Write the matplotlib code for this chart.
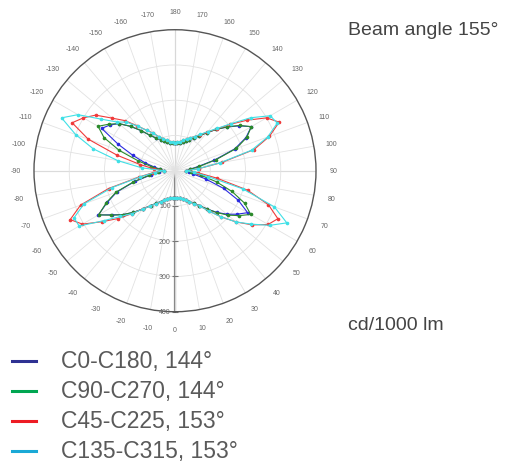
import numpy as np
import matplotlib.pyplot as plt
from matplotlib.lines import Line2D
from matplotlib.transforms import offset_copy

plt.rcParams['font.family'] = ['Liberation Sans', 'DejaVu Sans']

# gamma angles, -180 .. 180 every 5 degrees (0 = straight down)
angles = np.arange(-180, 181, 5)

# cd/1000lm per plane
c0_c180 = [80, 80, 81, 84, 89, 97, 107, 122, 148, 178, 208, 226, 240, 178, 127, 89, 60, 42, 32,
           45, 70, 118, 175, 212, 251, 218, 194, 167, 142, 121, 107, 97, 89, 83, 79, 77, 76,
           77, 79, 83, 89, 97, 107, 121, 142, 167, 192, 215, 238, 198, 147, 90, 52, 40, 32,
           42, 65, 115, 180, 222, 250, 222, 193, 166, 141, 121, 107, 97, 89, 84, 81, 80, 80]
c90_c270 = [80, 80, 81, 84, 89, 97, 107, 122, 148, 178, 208, 230, 252, 222, 168, 108, 68, 44, 32,
            47, 75, 122, 178, 215, 250, 220, 194, 167, 142, 121, 107, 97, 89, 83, 79, 77, 76,
            77, 79, 83, 89, 97, 107, 121, 142, 168, 196, 222, 248, 218, 172, 122, 75, 46, 32,
            44, 70, 120, 185, 225, 250, 224, 194, 166, 141, 121, 107, 97, 89, 84, 81, 80, 80]
c45_c225 = [80, 81, 84, 89, 97, 106, 123, 140, 166, 201, 232, 275, 300, 322, 262, 170, 100, 60, 32,
            62, 105, 195, 285, 328, 303, 252, 211, 172, 140, 122, 108, 97, 89, 83, 79, 77, 76,
            77, 79, 83, 89, 97, 108, 122, 148, 185, 226, 268, 305, 322, 282, 213, 120, 65, 32,
            68, 135, 232, 285, 326, 300, 250, 205, 168, 143, 125, 112, 103, 96, 89, 84, 81, 80]
c135_c315 = [80, 81, 84, 89, 97, 106, 122, 140, 165, 195, 215, 255, 318, 355, 300, 240, 165, 95, 32,
             58, 100, 185, 275, 316, 314, 247, 202, 172, 142, 122, 108, 97, 89, 83, 79, 77, 76,
             77, 79, 83, 89, 97, 108, 122, 150, 185, 226, 264, 310, 350, 300, 200, 95, 55, 32,
             66, 130, 225, 280, 320, 312, 262, 208, 170, 145, 126, 112, 103, 96, 89, 84, 81, 80]

series = [c0_c180, c90_c270, c45_c225, c135_c315]
legend_labels = ['C0-C180, 144°', 'C90-C270, 144°', 'C45-C225, 153°', 'C135-C315, 153°']
line_colors = ['#2a2ae0', '#2b8a2b', '#f03a3a', '#3fe0e6']
legend_colors = ['#2e3192', '#00a651', '#ed1c24', '#1aa9d6']

radial_ticks = [100, 200, 300, 400]

fig = plt.figure(figsize=(5.15, 4.64), dpi=100)
ax = fig.add_axes([0.066, 0.326, 0.5476, 0.6078], projection='polar')
ax.set_theta_zero_location('S')
ax.set_theta_direction(1)
ax.set_ylim(0, 400)

# angle grid + labels
grid_deg = np.arange(0, 360, 10)
grid_lab = [str(d) if d <= 180 else str(d - 360) for d in grid_deg]
ax.set_thetagrids(grid_deg, grid_lab, fontsize=5, color='#666666')
ax.tick_params(axis='x', pad=2.5)
ax.set_rgrids([100, 200, 300], labels=['', '', ''])
ax.grid(color='#e2e2e2', linewidth=0.6)
ax.spines['polar'].set_color('#555555')
ax.spines['polar'].set_linewidth(1.0)

# main axes lines
ax.plot([0, 0], [0, 400], color='#888888', lw=1.6, zorder=1)
ax.plot([np.pi, np.pi], [0, 400], color='#aaaaaa', lw=0.8, zorder=1)
ax.plot([np.pi / 2, np.pi / 2], [0, 400], color='#bbbbbb', lw=0.8, zorder=1)
ax.plot([-np.pi / 2, -np.pi / 2], [0, 400], color='#bbbbbb', lw=0.8, zorder=1)

tick_tr = offset_copy(ax.transData, fig=fig, x=-3, y=0, units='points')
for r in radial_ticks:
    ax.plot([0], [r], marker='_', ms=4, color='#777777', mew=0.8, clip_on=False)
    ax.text(0, r, str(r), transform=tick_tr, ha='right', va='center',
            fontsize=5, color='#666666')

th = np.deg2rad(angles)
for vals, col in zip(series, line_colors):
    ax.plot(th, vals, color=col, lw=0.8, marker='o', ms=1.6, zorder=3)

# legend
for i, (lab, col) in enumerate(zip(legend_labels, legend_colors)):
    y = 1 - (361.7 + 30 * i) / 464
    fig.add_artist(Line2D([12 / 515, 36 / 515], [y, y], color=col, lw=2.2))
    fig.text(61 / 515, y, lab, va='center', fontsize=16.5, color='#5a5a5a')

fig.text(348 / 515, 1 - 30.7 / 464, 'Beam angle 155°', va='center', fontsize=14, color='#444444')
fig.text(348 / 515, 1 - 325 / 464, 'cd/1000 lm', va='center', fontsize=14, color='#444444')

fig.savefig('out.png', dpi=100)
